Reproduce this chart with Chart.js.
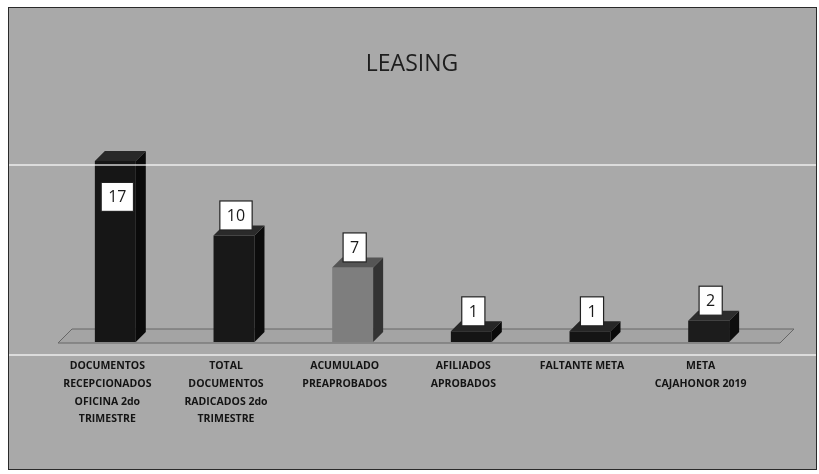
<!DOCTYPE html>
<html>
<head>
<meta charset="utf-8">
<script src="https://cdn.jsdelivr.net/npm/chart.js@4/dist/chart.umd.min.js"></script>
<style>
  html, body { margin: 0; padding: 0; background: #fff; }
  #box {
    position: absolute; left: 8px; top: 7px;
    width: 809px; height: 463px; box-sizing: border-box;
    background: #a9a9a9; border: 1px solid #2a2a2a;
  }
  #wrap { position: absolute; left: 0; top: 0; width: 807px; height: 461px; }
</style>
</head>
<body>
<div id="box"><div id="wrap"><canvas id="chart"></canvas></div></div>
<script>
const categories = [
  ["DOCUMENTOS", "RECEPCIONADOS", "OFICINA 2do", "TRIMESTRE"],
  ["TOTAL", "DOCUMENTOS", "RADICADOS 2do", "TRIMESTRE"],
  ["ACUMULADO", "PREAPROBADOS"],
  ["AFILIADOS", "APROBADOS"],
  ["FALTANTE META"],
  ["META", "CAJAHONOR 2019"]
];
const values = [17, 10, 7, 1, 1, 2];

// front / side / top colour of each bar
const fronts = ["#161616", "#181818", "#7e7e7e", "#141414", "#141414", "#1c1c1c"];
const sides  = ["#0a0a0a", "#0c0c0c", "#333333", "#0a0a0a", "#0a0a0a", "#0e0e0e"];
const tops   = ["#282828", "#2a2a2a", "#555555", "#262626", "#262626", "#2c2c2c"];

const DX = 10, DY = 10;

const bars3d = {
  id: "bars3d",
  beforeDatasetsDraw(chart) {
    const ctx = chart.ctx, a = chart.chartArea;
    const base = chart.scales.y.getPixelForValue(0);
    ctx.save();
    // floor
    ctx.beginPath();
    ctx.moveTo(a.left + 2, base + 1);
    ctx.lineTo(a.right + 12, base + 1);
    ctx.lineTo(a.right + 12 + DX + 4, base - DY - 3);
    ctx.lineTo(a.left + 2 + DX + 4, base - DY - 3);
    ctx.closePath();
    ctx.fillStyle = "#a4a4a4";
    ctx.fill();
    ctx.strokeStyle = "#666";
    ctx.lineWidth = 1;
    ctx.stroke();
    ctx.restore();
  },
  afterDatasetsDraw(chart) {
    const ctx = chart.ctx;
    const meta = chart.getDatasetMeta(0);
    ctx.save();
    meta.data.forEach((el, i) => {
      const p = el.getProps(["x", "y", "base", "width"], true);
      const l = p.x - p.width / 2, r = p.x + p.width / 2;
      // side face
      ctx.beginPath();
      ctx.moveTo(r, p.y);
      ctx.lineTo(r + DX, p.y - DY);
      ctx.lineTo(r + DX, p.base - DY);
      ctx.lineTo(r, p.base);
      ctx.closePath();
      ctx.fillStyle = sides[i];
      ctx.fill();
      // top face
      ctx.beginPath();
      ctx.moveTo(l, p.y);
      ctx.lineTo(l + DX, p.y - DY);
      ctx.lineTo(r + DX, p.y - DY);
      ctx.lineTo(r, p.y);
      ctx.closePath();
      ctx.fillStyle = tops[i];
      ctx.fill();
    });
    // value labels in white boxes
    ctx.font = "16px 'Open Sans', sans-serif";
    ctx.textAlign = "center";
    ctx.textBaseline = "middle";
    const a = chart.chartArea;
    meta.data.forEach((el, i) => {
      const p = el.getProps(["x", "y"], true);
      const txt = String(values[i]);
      const w = ctx.measureText(txt).width + 14, h = 29;
      let cy = p.y - 20;
      if (cy - h / 2 < a.top) cy = p.y + 36;
      const cx = p.x + 2;
      ctx.fillStyle = "#fff";
      ctx.fillRect(cx - w / 2, cy - h / 2, w, h);
      ctx.strokeStyle = "#222";
      ctx.lineWidth = 1.2;
      ctx.strokeRect(cx - w / 2, cy - h / 2, w, h);
      ctx.fillStyle = "#1a1a1a";
      ctx.fillText(txt, cx, cy + 1);
    });
    ctx.restore();
  },
  afterDraw(chart) {
    // light streaks of the scanned page
    const ctx = chart.ctx;
    ctx.save();
    ctx.strokeStyle = "rgba(255,255,255,0.6)";
    ctx.lineWidth = 2;
    [157, 347].forEach(y => {
      ctx.beginPath();
      ctx.moveTo(0, y);
      ctx.lineTo(chart.width, y);
      ctx.stroke();
    });
    ctx.restore();
  }
};

new Chart("chart", {
  type: "bar",
  data: {
    labels: categories,
    datasets: [{
      data: values,
      backgroundColor: fronts,
      borderWidth: 0,
      categoryPercentage: 1,
      barPercentage: 0.345
    }]
  },
  options: {
    responsive: true,
    maintainAspectRatio: false,
    animation: false,
    layout: { padding: { left: 47, right: 48, top: 0, bottom: 7 } },
    plugins: {
      legend: { display: false },
      tooltip: { enabled: false },
      title: {
        display: true,
        text: "LEASING",
        color: "#1e1e1e",
        font: { family: "'Open Sans', sans-serif", size: 23, weight: "normal" },
        padding: { top: 43, bottom: 61 }
      }
    },
    scales: {
      x: {
        grid: { display: false, drawTicks: false },
        border: { display: false },
        ticks: {
          color: "#141414",
          padding: 15,
          labelOffset: -8,
          maxRotation: 0,
          autoSkip: false,
          font: { family: "'Open Sans', sans-serif", size: 10.5, weight: "bold", lineHeight: 1.7 }
        },
        afterFit(scale) { scale.height = 120; }
      },
      y: {
        display: false,
        min: 0,
        max: 19
      }
    }
  },
  plugins: [bars3d]
});
</script>
</body>
</html>
